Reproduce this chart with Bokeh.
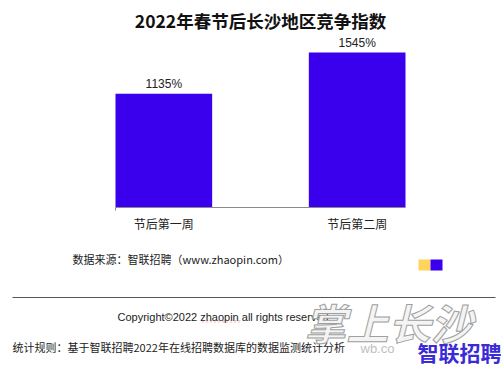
from bokeh.plotting import figure
from bokeh.models import ColumnDataSource, Range1d, Label, BoxAnnotation
from bokeh.core.properties import value
from bokeh.embed import file_html
from bokeh.resources import INLINE

# ---- data ----
categories = ["节后第一周", "节后第二周"]
values = [1135, 1545]
value_labels = ["1135%", "1545%"]
title_text = "2022年春节后长沙地区竞争指数"
source_text = "数据来源：智联招聘（www.zhaopin.com）"
copyright_text = "Copyright©2022 zhaopin all rights reserved"
rule_text = "统计规则：基于智联招聘2022年在线招聘数据库的数据监测统计分析"
legend_colors = ["#FFD45C", "#3A00EE"]
logo_text = "智联招聘"
watermark_text = "掌上长沙"

BAR = "#3A00EE"
CJK = "Noto Sans CJK SC"
LAT = "Liberation Sans, Arial, Helvetica, sans-serif"

W, H = 501, 368          # figure size (page has no margin in Bokeh's template)
OFF = 0
# chart geometry in page pixels
AX_L, AX_R = 115, 405    # x-axis extent (= outer bar edges)
BASE = 207               # baseline (y of value 0)
PX_PER_UNIT = 155 / 1545.0

xs = list(range(len(categories)))
src = ColumnDataSource(dict(x=xs, top=values, lab=value_labels,
                            cat=categories, zero=[0] * len(xs)))

# full-canvas frame; ranges chosen so that the plotting area maps to pixels
xu = (AX_R - AX_L) / 1.5               # px per category unit
x0 = -0.25 - (AX_L - OFF) / xu
x1 = 1.25 + (OFF + W - AX_R) / xu
y0 = -((OFF + H) - BASE) / PX_PER_UNIT
y1 = (BASE - OFF) / PX_PER_UNIT

p = figure(width=W, height=H, x_range=Range1d(x0, x1), y_range=Range1d(y0, y1),
           output_backend="svg", toolbar_location=None,
           min_border=0)
p.axis.visible = False
p.grid.visible = False
p.outline_line_color = None
p.background_fill_color = "white"
p.border_fill_color = "white"

p.vbar(x="x", top="top", bottom=0, width=0.5, source=src,
       fill_color=BAR, line_color=None)

# value labels
p.text(x="x", y="top", text="lab", source=src, text_align="center",
       text_baseline="bottom", y_offset=-3, text_font=value(LAT),
       text_font_size="12px", text_color="#222222")

# x axis line and category labels
p.segment(x0=[-0.25], y0=[0], x1=[1.25], y1=[0], line_color="#8a8a8a", line_width=1)
p.segment(x0=[-0.25], y0=[0], x1=[-0.25], y1=[-3 / PX_PER_UNIT],
          line_color="#8a8a8a", line_width=1)
p.text(x="x", y="zero", text="cat", source=src, text_align="center",
       text_baseline="middle", y_offset=16, text_font=value(CJK),
       text_font_size="12px", text_color="#222222")


def sx(px):
    return px - OFF


def sy(py):
    return OFF + H - py


def lab(text, x, y, size, font=CJK, align="left", style="normal",
        color="#222222", **kw):
    p.add_layout(Label(x=sx(x), y=sy(y), x_units="screen", y_units="screen",
                       text=text, text_font=font, text_font_size=size,
                       text_align=align, text_baseline="middle",
                       text_font_style=style, text_color=color, **kw))


lab(title_text, 260, 20, "17.5px", font=CJK, align="center", style="bold",
    color="#111111")
lab(source_text, 72, 258, "11px")
lab(copyright_text, 117, 316, "11px", font=LAT)
lab(rule_text, 12, 346, "11px")

# spell-check style dotted underline under "zhaopin"
p.add_layout(BoxAnnotation(left=sx(202), right=sx(240), top=sy(320), bottom=sy(321.5),
                           left_units="screen", right_units="screen",
                           top_units="screen", bottom_units="screen",
                           fill_alpha=0, line_color="#d03030", line_width=1,
                           line_dash="2 2"))

# legend swatches
for i, c in enumerate(legend_colors):
    p.add_layout(BoxAnnotation(left=sx(418 + 12 * i), right=sx(430 + 12 * i),
                               top=sy(259), bottom=sy(270),
                               left_units="screen", right_units="screen",
                               top_units="screen", bottom_units="screen",
                               fill_color=c, fill_alpha=1, line_color=None))

# separator rule
p.add_layout(BoxAnnotation(left=sx(12), right=sx(495), top=sy(296.5), bottom=sy(297.5),
                           left_units="screen", right_units="screen",
                           top_units="screen", bottom_units="screen",
                           fill_color="#555555", fill_alpha=1, line_color=None))

# watermark
lab(watermark_text, 304, 321, "42px", font=CJK, style="bold italic",
    color="#f4f4f4", text_outline_color="#a0a0a0")
lab("wb.co", 360, 348, "13px", font=LAT, color="#c0c0c0")
lab(logo_text, 417, 351, "21px", font=CJK, style="bold", color="#3B2BD6")

open("out.html", "w").write(file_html(p, INLINE))
